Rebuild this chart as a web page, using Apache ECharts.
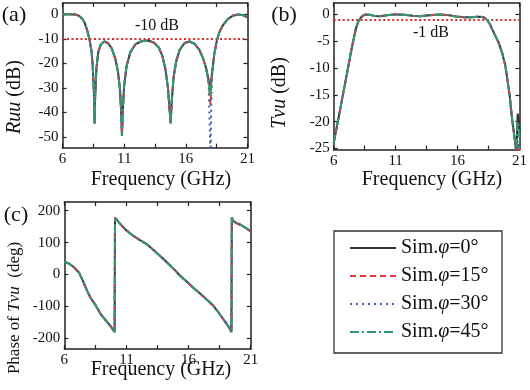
<!DOCTYPE html>
<html><head><meta charset="utf-8">
<script src="https://cdn.jsdelivr.net/npm/echarts@6/dist/echarts.min.js"></script>
<style>html,body{margin:0;padding:0;background:#fff}#c{width:530px;height:390px}</style>
</head><body><div id="c"></div>
<script>
// ---------- data ----------
const seriesNames = ['Sim.φ=0°', 'Sim.φ=15°', 'Sim.φ=30°', 'Sim.φ=45°'];
const xTickValues = [6, 8.5, 11, 13.5, 16, 18.5, 21];
const xLabelValues = [6, 11, 16, 21];
const ruuTicks = [-50, -40, -30, -20, -10, 0];
const tvuTicks = [-25, -20, -15, -10, -5, 0];
const phaseTicks = [-200, -100, 0, 100, 200];

// (a) Ruu (dB)
const ruuFreq = [6.0,6.5,7.0,7.3,7.6,7.8,8.0,8.2,8.35,8.45,8.55,8.6,8.65,8.75,8.9,9.1,9.4,9.7,10.0,10.3,10.5,10.65,10.75,10.82,10.9,11.0,11.2,11.5,11.9,12.4,12.9,13.4,13.8,14.1,14.35,14.55,14.7,14.77,14.85,15.0,15.2,15.5,15.9,16.3,16.7,17.1,17.4,17.65,17.85,18.0,18.1,18.3,18.5,18.7,19.0,19.4,19.8,20.2,20.6,21.0];
const ruuPhi0  = [0,0,-0.1,-0.5,-1.8,-3.5,-6.5,-10.5,-15,-21,-32,-44.5,-33,-22,-15.5,-12.3,-11.1,-11.8,-14,-18.5,-23.5,-30,-39,-49.5,-38,-29,-21,-15.5,-12.3,-11,-10.7,-11.5,-13.5,-17,-22.5,-30,-40,-44.5,-36,-26,-19.5,-14.5,-11.7,-11.1,-12,-14.5,-18,-22,-27,-30,-25,-16.5,-11,-7.5,-4.5,-2,-0.6,-0.1,-0.3,-1.2];
const ruuPhi15 = [0,0,-0.1,-0.5,-1.8,-3.5,-6.5,-10.5,-15,-21,-32,-44.5,-33,-22,-15.5,-12.3,-11.1,-11.8,-14,-18.5,-23.5,-30,-39,-49.5,-38,-29,-21,-15.5,-12.3,-11,-10.7,-11.5,-13.5,-17,-22.5,-30,-40,-44.5,-36,-26,-19.5,-14.5,-11.7,-11.1,-12,-14.5,-18,-22,-28,-37,-26,-16.5,-11,-7.5,-4.5,-2,-0.6,-0.1,-0.3,-1.2];
const ruuPhi30 = [0,0,-0.1,-0.5,-1.8,-3.5,-6.5,-10.5,-15,-21,-32,-44.5,-33,-22,-15.5,-12.3,-11.1,-11.8,-14,-18.5,-23.5,-30,-39,-49.5,-38,-29,-21,-15.5,-12.3,-11,-10.7,-11.5,-13.5,-17,-22.5,-30,-40,-44.5,-36,-26,-19.5,-14.5,-11.7,-11.1,-12,-14.5,-18,-22,-28,-58,-26,-16.5,-11,-7.5,-4.5,-2,-0.6,-0.1,-0.3,-1.2];
const ruuPhi45 = [0,0,-0.1,-0.5,-1.8,-3.5,-6.5,-10.5,-15,-21,-32,-44.5,-33,-22,-15.5,-12.3,-11.1,-11.8,-14,-18.5,-23.5,-30,-39,-49.5,-38,-29,-21,-15.5,-12.3,-11,-10.7,-11.5,-13.5,-17,-22.5,-30,-40,-44.5,-36,-26,-19.5,-14.5,-11.7,-11.1,-12,-14.5,-18,-22,-27.5,-33.5,-25.5,-16.5,-11,-7.5,-4.5,-2,-0.6,-0.1,-0.3,-1.2];

// (b) Tvu (dB)
const tvuFreq = [6.0,6.5,7.0,7.5,7.8,8.0,8.2,8.4,8.6,8.9,9.3,9.8,10.4,11.0,11.7,12.4,13.0,13.7,14.5,15.2,15.9,16.5,17.1,17.7,18.0,18.2,18.4,18.6,18.8,19.0,19.3,19.6,19.85,20.0,20.2,20.4,20.6,20.75,20.85,20.95,21.0];
const tvuPhi0  = [-24,-18,-11.9,-5.8,-2.6,-1.3,-0.6,-0.2,-0.05,-0.1,-0.3,-0.35,-0.15,-0.02,-0.1,-0.3,-0.35,-0.2,-0.05,-0.15,-0.4,-0.55,-0.55,-0.45,-0.5,-0.7,-1.1,-1.8,-2.8,-3.8,-5.2,-7.2,-9.5,-11.8,-15,-19.5,-23,-26,-18.5,-20,-22];
const tvuPhi15 = [-24,-18,-11.9,-5.8,-2.6,-1.3,-0.6,-0.2,-0.05,-0.1,-0.3,-0.35,-0.15,-0.02,-0.1,-0.3,-0.35,-0.2,-0.05,-0.15,-0.4,-0.55,-0.55,-0.45,-0.5,-0.7,-1.1,-1.8,-2.8,-3.8,-5.2,-7.2,-9.5,-11.8,-15,-19.5,-23,-26,-25,-24,-26];
const tvuPhi30 = [-24,-18,-11.9,-5.8,-2.6,-1.3,-0.6,-0.2,-0.05,-0.1,-0.3,-0.35,-0.15,-0.02,-0.1,-0.3,-0.35,-0.2,-0.05,-0.15,-0.4,-0.55,-0.55,-0.45,-0.5,-0.7,-1.1,-1.8,-2.8,-3.8,-5.2,-7.2,-9.5,-11.8,-15,-19.5,-23,-26,-26,-24,-26];
const tvuPhi45 = [-24,-18,-11.9,-5.8,-2.6,-1.3,-0.6,-0.2,-0.05,-0.1,-0.3,-0.35,-0.15,-0.02,-0.1,-0.3,-0.35,-0.2,-0.05,-0.15,-0.4,-0.55,-0.55,-0.45,-0.5,-0.7,-1.1,-1.8,-2.8,-3.8,-5.2,-7.2,-9.5,-11.8,-15,-19.5,-23,-25,-20,-21,-25];

// (c) Phase of Tvu (deg)
const phFreq = [6.0,6.4,6.8,7.2,7.5,7.8,8.1,8.5,8.9,9.3,9.7,10.05,10.08,10.5,11.0,11.6,12.2,12.6,13.2,13.8,14.4,15.0,15.3,15.8,16.4,17.0,17.5,18.0,18.4,18.8,19.2,19.45,19.48,19.6,19.8,20.2,20.6,21.0];
const phPhi0  = [40,34,22,5,-20,-48,-72,-95,-122,-142,-160,-180,178,158,138,120,105,96,76,55,33,10,-3,-20,-42,-62,-80,-98,-118,-140,-162,-180,178,168,162,155,146,135];
const phPhi15 = [40,34,22,5,-20,-48,-72,-95,-122,-142,-160,-180,178,158,138,120,105,96,76,55,33,10,-3,-20,-42,-62,-80,-98,-118,-140,-162,-180,178,168,162,155,146,135];
const phPhi30 = [40,34,22,5,-20,-48,-72,-95,-122,-142,-160,-180,178,158,138,120,105,96,76,55,33,10,-3,-20,-42,-62,-80,-98,-118,-140,-162,-180,178,168,162,155,146,135];
const phPhi45 = [40,34,22,5,-20,-48,-72,-95,-122,-142,-160,-180,178,158,138,120,105,96,76,55,33,10,-3,-20,-42,-62,-80,-98,-118,-140,-162,-180,178,168,162,155,146,135];

// ---------- styling ----------
const FONT = 'Liberation Serif';
const TXT = '#111';
const colors = ['#333333', '#e8343f', '#3f5fae', '#2f9b6c'];
const dashes = ['solid', [6, 4], [2, 4], [9, 3, 2, 3]];

function pairs(f, v) { return f.map((x, i) => [x, v[i]]); }

const grids = [
  { left: 62.5, top: 3, width: 185, height: 144.7 },
  { left: 333.7, top: 3, width: 190, height: 146.5 },
  { left: 64.3, top: 202, width: 186.4, height: 147 }
];
const yRanges = [[-54.4, 4.6], [-25.2, 2.1], [-233, 227]];
const yTicks = [ruuTicks, tvuTicks, phaseTicks];

const xAxes = [], yAxes = [];
grids.forEach((g, gi) => {
  ['bottom', 'top'].forEach((pos) => {
    xAxes.push({
      type: 'value', gridIndex: gi, position: pos, min: 6, max: 21,
      axisLine: { show: true, onZero: false, lineStyle: { color: '#222', width: 1.5 } },
      axisTick: { show: true, inside: true, length: 4, customValues: xTickValues, lineStyle: { color: '#222', width: 1.2 } },
      axisLabel: { show: pos === 'bottom', customValues: xLabelValues, margin: 4, fontFamily: FONT, fontSize: 15, color: TXT },
      splitLine: { show: false }
    });
  });
  ['left', 'right'].forEach((pos) => {
    yAxes.push({
      type: 'value', gridIndex: gi, position: pos, min: yRanges[gi][0], max: yRanges[gi][1],
      axisLine: { show: true, onZero: false, lineStyle: { color: '#222', width: 1.5 } },
      axisTick: { show: true, inside: true, length: 4, customValues: yTicks[gi], lineStyle: { color: '#222', width: 1.2 } },
      axisLabel: { show: pos === 'left', customValues: yTicks[gi], margin: 4, fontFamily: FONT, fontSize: 15, color: TXT },
      splitLine: { show: false }
    });
  });
});

const panelData = [
  [ruuFreq, [ruuPhi0, ruuPhi15, ruuPhi30, ruuPhi45], -10],
  [tvuFreq, [tvuPhi0, tvuPhi15, tvuPhi30, tvuPhi45], -1],
  [phFreq, [phPhi0, phPhi15, phPhi30, phPhi45], null]
];

const series = [];
panelData.forEach((p, gi) => {
  p[1].forEach((vals, si) => {
    const s = {
      type: 'line', name: seriesNames[si], xAxisIndex: gi * 2, yAxisIndex: gi * 2,
      data: pairs(p[0], vals), showSymbol: false, symbol: 'none',
      lineStyle: { color: colors[si], width: 2, type: dashes[si] },
      itemStyle: { color: colors[si] },
      z: 2 + si, animation: false, silent: true, clip: true
    };
    if (si === 0 && p[2] !== null) {
      s.markLine = {
        silent: true, symbol: 'none', animation: false, label: { show: false },
        lineStyle: { color: '#e02a2a', width: 2, type: [2, 2.5] },
        data: [{ yAxis: p[2] }]
      };
    }
    series.push(s);
  });
});

function txt(x, y, text, size, rot) {
  return {
    type: 'text', x: x, y: y, rotation: rot || 0, silent: true,
    style: {
      text: text, fontFamily: FONT, fontSize: size, fill: TXT,
      align: 'center', verticalAlign: 'middle',
      rich: { i: { fontFamily: FONT, fontSize: size, fontStyle: 'italic', fill: TXT } }
    }
  };
}

const option = {
  backgroundColor: '#fff',
  animation: false,
  grid: grids,
  xAxis: xAxes,
  yAxis: yAxes,
  series: series,
  legend: {
    data: seriesNames, orient: 'vertical', left: 349, top: 237, padding: 0,
    itemWidth: 46, itemHeight: 14, itemGap: 6,
    itemStyle: { opacity: 0, borderWidth: 0 },
    formatter: (n) => n.replace('φ', '{i|φ}'),
    textStyle: { fontFamily: FONT, fontSize: 20, color: TXT, lineHeight: 22,
      rich: { i: { fontFamily: FONT, fontSize: 20, fontStyle: 'italic', color: TXT, lineHeight: 22 } } },
    selectedMode: false
  },
  graphic: [
    { type: 'rect', silent: true, shape: { x: 334, y: 231, width: 168, height: 122 }, style: { fill: 'none', stroke: '#333', lineWidth: 1.3 } },
    txt(14, 15, '(a)', 22), txt(284, 15, '(b)', 22), txt(16, 215, '(c)', 22),
    txt(157, 26, '-10 dB', 16), txt(431, 33, '-1 dB', 16),
    txt(161, 180, 'Frequency (GHz)', 20), txt(432, 180, 'Frequency (GHz)', 20), txt(161, 370, 'Frequency (GHz)', 20),
    txt(15, 97, '{i|Ruu} (dB)', 20, Math.PI / 2),
    txt(280, 93, '{i|Tvu} (dB)', 20, Math.PI / 2),
    txt(15, 308, 'Phase of {i|Tvu}  (deg)', 17, Math.PI / 2)
  ]
};

const chart = echarts.init(document.getElementById('c'), null, { renderer: 'canvas' });
chart.setOption(option);
</script></body></html>
